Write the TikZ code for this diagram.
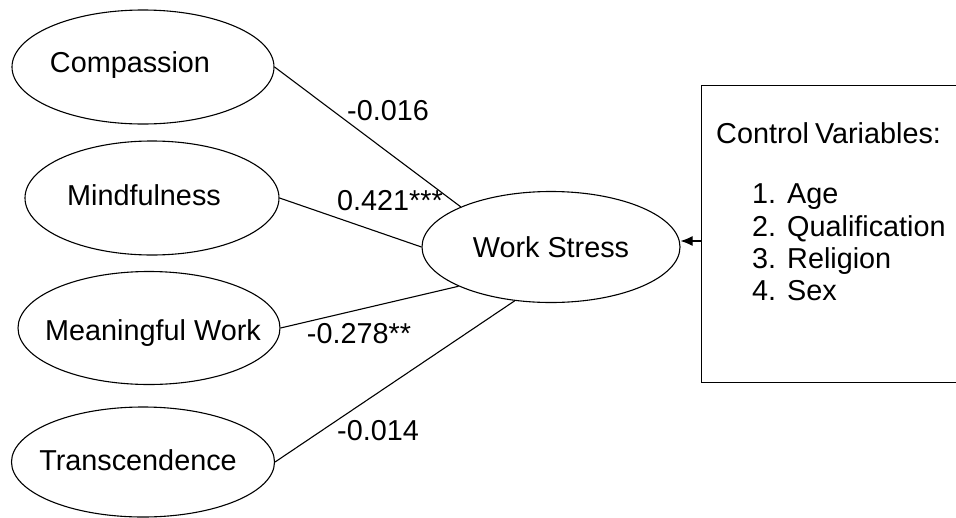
\documentclass[tikz,border=0pt]{standalone}
\usepackage{fontspec}
\setmainfont{Liberation Sans}
\usetikzlibrary{shapes.geometric,arrows.meta}
\begin{document}
\begin{tikzpicture}[x=1pt,y=-1pt,
  every node/.style={font=\fontsize{28.8}{34}\selectfont},
  txt/.style={inner sep=0pt, text height=20.5pt, text depth=0pt},
  latent/.style={draw, ellipse, line width=1.1pt, inner sep=0pt},
  path/.style={line width=1.1pt},
  coef/.style={txt}]
\useasboundingbox (0,0) rectangle (956,517);
\clip (0,0) rectangle (956,517);
% left constructs
\node[latent, minimum width=262pt, minimum height=114pt,
  label={[txt, xshift=-13pt, yshift=5pt]center:Compassion}] (comp) at (143,67) {};
\node[latent, minimum width=254pt, minimum height=114pt,
  label={[txt, xshift=-8pt, yshift=3pt]center:Mindfulness}] (mind) at (152,198) {};
\node[latent, minimum width=262pt, minimum height=113pt,
  label={[txt, xshift=4pt, yshift=-2pt]center:Meaningful Work}] (mean) at (149,328) {};
\node[latent, minimum width=263pt, minimum height=110pt,
  label={[txt, xshift=-5pt, yshift=2pt]center:Transcendence}] (trans) at (143,462) {};
% outcome
\node[latent, minimum width=258pt, minimum height=111pt,
  label={[txt]center:Work Stress}] (ws) at (551,247) {};
% paths
\draw[path] (comp.east) -- (ws.156.7);
\draw[path] (mind.east) -- (ws.west);
\draw[path] (mean.east) -- (ws.203);
\draw[path] (trans.east) -- (ws.236);
% coefficients
\node[coef] (c1) at (388,110) {-0.016};
\node[coef] (c2) at (390,200) {0.421***};
\node[coef] (c3) at (359,333) {-0.278**};
\node[coef] (c4) at (378,430) {-0.014};
% control box
\node[draw, line width=1.1pt, anchor=north west, minimum width=280pt, minimum height=297pt, inner sep=0pt] (ctrl) at (701,85) {};
\node[txt, anchor=west] (ct) at (716,133) {Control\hspace{-2pt} Variables:};
\node[txt, anchor=west] (n1) at (752,193) {1.};
\node[txt, anchor=west] (i1) at (787,193) {Age};
\node[txt, anchor=west] (n2) at (752,226) {2.};
\node[txt, anchor=west] (i2) at (787,226) {Qualification};
\node[txt, anchor=west] (n3) at (752,258) {3.};
\node[txt, anchor=west] (i3) at (787,258) {Religion};
\node[txt, anchor=west] (n4) at (752,290) {4.};
\node[txt, anchor=west] (i4) at (787,290) {Sex};
\coordinate (cin) at (701,241);
\draw[path, -{Latex[length=12pt,width=10pt]}] (cin) -- (cin -| ws.east);
\end{tikzpicture}
\end{document}
